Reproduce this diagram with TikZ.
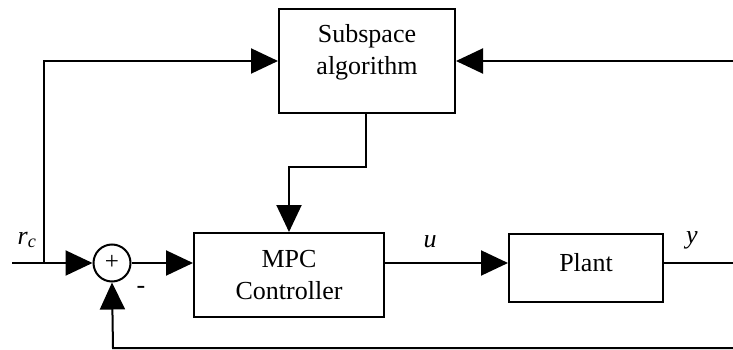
\documentclass[tikz,border=0pt]{standalone}
\usepackage{fontspec}
\setmainfont{Liberation Serif}
\usetikzlibrary{arrows.meta}

\tikzset{
    block/.style={draw, line width=2pt, inner sep=0pt},
    sig/.style={line width=2pt, -{Triangle[length=27pt,width=25pt]}},
    wire/.style={line width=2pt},
}

\begin{document}
\begin{tikzpicture}[x=1pt,y=-1pt,font=\fontsize{26}{32}\selectfont]
    \useasboundingbox (0,0) rectangle (733,350);
    \begin{scope}
        % blocks
        \node [block, minimum width=176pt, minimum height=104pt] (subspace) at (367,61) {};
        \node [align=center] (subtext) at (367,52) {Subspace\\algorithm};
        \node [block, align=center, minimum width=190pt, minimum height=84pt] (mpc) at (289,275) {MPC\\Controller};
        \node [block, minimum width=154pt, minimum height=68pt] (plant) at (586,268) {};
        \node (planttext) at (586,263) {Plant};
        \node [draw, circle, line width=2pt, minimum size=37pt, inner sep=0pt] (sum) at (112,263) {};
        \node [font=\fontsize{25}{30}\selectfont] (plus) at (112,262) {+};

        % points on the wires
        \coordinate (rcin)   at (12,263);
        \coordinate (branch) at (44,263);
        \coordinate (ident)  at (44,61);
        \coordinate (idright) at (733,61);
        \coordinate (yout)   at (733,263);
        \coordinate (fbright) at (733,348);
        \coordinate (fbleft) at (113,348);
        \coordinate (bend)   at (366,167);

        % connectors
        \draw [wire] (rcin) -- (branch);
        \draw [sig] (branch) -- (sum.west);
        \draw [sig] (branch) -- (ident) -- (subspace.west);
        \draw [sig] (idright) -- (subspace.east);
        \draw [sig] (subspace.south -| bend) -- (bend) -| (mpc.north);
        \draw [sig] (sum.east) -- (mpc.west |- sum.east);
        \draw [sig] (mpc.east |- sum.east) -- (plant.west |- sum.east);
        \draw [wire] (plant.east |- sum.east) -- (yout);
        \draw [sig] (fbright) -- (fbleft) -- (sum.south);

        % labels
        \node (rclabel) at (27,240) {\textit{r}\textsubscript{\textit{c}}};
        \node (ulabel) at (430,242) {\textit{u}};
        \node (ylabel) at (692,240) {\textit{y}};
        \node (minus) at (141,290) {-};
    \end{scope}
\end{tikzpicture}
\end{document}
